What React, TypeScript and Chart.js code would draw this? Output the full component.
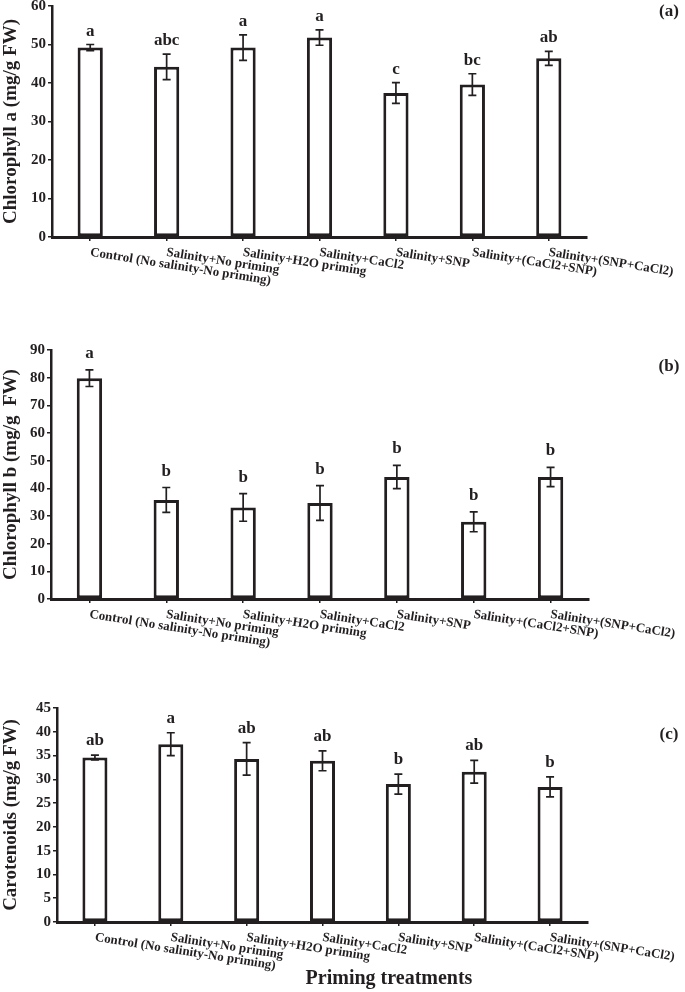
import React, { useEffect, useRef } from 'react';
import { Chart, registerables } from 'chart.js';
Chart.register(...registerables);

const categories = [
  'Control (No salinity-No priming)',
  'Salinity+No priming',
  'Salinity+H2O priming',
  'Salinity+CaCl2',
  'Salinity+SNP',
  'Salinity+(CaCl2+SNP)',
  'Salinity+(SNP+CaCl2)',
];

const chlA = [49.2, 44.2, 49.2, 51.8, 37.4, 39.6, 46.4];
const chlAErr = [0.8, 3.3, 3.3, 2.0, 2.7, 2.8, 1.8];
const chlALetters = ['a', 'abc', 'a', 'a', 'c', 'bc', 'ab'];

const chlB = [79.8, 35.8, 33.1, 34.7, 44.1, 27.9, 44.1];
const chlBErr = [3.0, 4.5, 5.0, 6.3, 4.2, 3.6, 3.5];
const chlBLetters = ['a', 'b', 'b', 'b', 'b', 'b', 'b'];

const car = [34.6, 37.4, 34.3, 33.9, 29.0, 31.6, 28.4];
const carErr = [0.5, 2.4, 3.4, 2.1, 2.1, 2.4, 2.1];
const carLetters = ['ab', 'a', 'ab', 'ab', 'b', 'ab', 'b'];

const INK = '#231f20';
const SERIF = '"Liberation Serif", "Times New Roman", serif';
const W = 685;

type PanelProps = {
  values: number[];
  errors: number[];
  letters: string[];
  yMax: number;
  yStep: number;
  yTitle: string;
  panelLabel: string;
  top: number;
  height: number;
  areaTop: number;
  areaBottom: number;
  areaLeft: number;
  areaRight: number;
  letterGap: number;
  labelY: number;
  xTitle?: string;
  xTitleY?: number;
};

function Panel(p: PanelProps) {
  const ref = useRef<HTMLCanvasElement | null>(null);
  useEffect(() => {
    if (!ref.current) return;
    const annot = {
      id: 'annot',
      afterDatasetsDraw(chart: any) {
        const ctx = chart.ctx as CanvasRenderingContext2D;
        const meta = chart.getDatasetMeta(0);
        const ys = chart.scales.y;
        const xs = chart.scales.x;
        ctx.save();
        ctx.strokeStyle = INK;
        ctx.fillStyle = INK;
        ctx.lineWidth = 1.7;
        p.values.forEach((v, i) => {
          const bx = meta.data[i].x;
          const yt = ys.getPixelForValue(v + p.errors[i]);
          const yb = ys.getPixelForValue(v - p.errors[i]);
          ctx.beginPath();
          ctx.moveTo(bx, yt);
          ctx.lineTo(bx, yb);
          ctx.moveTo(bx - 4, yt);
          ctx.lineTo(bx + 4, yt);
          ctx.moveTo(bx - 4, yb);
          ctx.lineTo(bx + 4, yb);
          ctx.stroke();
          ctx.font = 'bold 17px ' + SERIF;
          ctx.textAlign = 'center';
          ctx.textBaseline = 'alphabetic';
          ctx.fillText(p.letters[i], bx, yt - p.letterGap);
        });
        ctx.font = 'bold 13px ' + SERIF;
        ctx.textAlign = 'left';
        ctx.textBaseline = 'top';
        categories.forEach((c, i) => {
          const tx = xs.getPixelForValue(i);
          ctx.save();
          ctx.translate(tx + 1, xs.top + 9);
          ctx.rotate((9 * Math.PI) / 180);
          ctx.fillText(c, 0, 0);
          ctx.restore();
        });
        ctx.font = 'bold 17px ' + SERIF;
        ctx.textAlign = 'center';
        ctx.textBaseline = 'middle';
        ctx.fillText(p.panelLabel, 669, p.labelY);
        if (p.xTitle) {
          ctx.font = 'bold 20px ' + SERIF;
          ctx.fillText(p.xTitle, 389, p.xTitleY || 0);
        }
        ctx.restore();
      },
    };
    const chart = new Chart(ref.current, {
      type: 'bar',
      data: {
        labels: categories,
        datasets: [
          {
            data: p.values,
            backgroundColor: '#ffffff',
            borderColor: INK,
            borderWidth: 3,
            borderSkipped: false,
            barPercentage: 0.33,
            categoryPercentage: 1,
          },
        ],
      },
      options: {
        responsive: false,
        animation: false,
        devicePixelRatio: 1,
        layout: { padding: { top: p.areaTop, right: W - p.areaRight, left: 0, bottom: 0 } },
        plugins: { legend: { display: false }, tooltip: { enabled: false } },
        scales: {
          x: {
            grid: {
              display: true,
              drawOnChartArea: false,
              drawTicks: true,
              tickLength: 4,
              offset: false,
              color: INK,
              lineWidth: 1.5,
            },
            border: { display: true, color: INK, width: 3 },
            ticks: { display: false },
            afterFit: (s: any) => {
              s.height = p.height - p.areaBottom;
            },
          },
          y: {
            min: 0,
            max: p.yMax,
            ticks: {
              stepSize: p.yStep,
              color: INK,
              padding: 2,
              font: { family: SERIF, size: 15, weight: 'bold' },
            },
            grid: {
              drawOnChartArea: false,
              drawTicks: true,
              tickLength: 4,
              color: INK,
              lineWidth: 1.5,
            },
            border: { display: true, color: INK, width: 2.5 },
            title: {
              display: true,
              text: p.yTitle,
              color: INK,
              padding: { top: 0, bottom: 0 },
              font: { family: SERIF, size: 19, weight: 'bold' },
            },
            afterFit: (s: any) => {
              s.width = p.areaLeft;
            },
          },
        },
      } as any,
      plugins: [annot],
    });
    return () => chart.destroy();
  }, []);
  return (
    <canvas
      ref={ref}
      width={W}
      height={p.height}
      style={{ position: 'absolute', left: 0, top: p.top, width: W, height: p.height, display: 'block' }}
    />
  );
}

export default function App() {
  return (
    <div style={{ position: 'absolute', left: 0, top: 0, width: W, height: 992, overflow: 'hidden', background: '#fff' }}>
      <Panel
        values={chlA}
        errors={chlAErr}
        letters={chlALetters}
        yMax={60}
        yStep={10}
        yTitle="Chlorophyll a (mg/g FW)"
        panelLabel="(a)"
        top={-5}
        height={345}
        areaTop={10}
        areaBottom={242}
        areaLeft={52}
        areaRight={587}
        letterGap={9}
        labelY={17}
      />
      <Panel
        values={chlB}
        errors={chlBErr}
        letters={chlBLetters}
        yMax={90}
        yStep={10}
        yTitle="Chlorophyll b (mg/g  FW)"
        panelLabel="(b)"
        top={339}
        height={356}
        areaTop={10}
        areaBottom={260}
        areaLeft={51}
        areaRight={589}
        letterGap={12}
        labelY={28}
      />
      <Panel
        values={car}
        errors={carErr}
        letters={carLetters}
        yMax={45}
        yStep={5}
        yTitle="Carotenoids (mg/g FW)"
        panelLabel="(c)"
        top={697}
        height={295}
        areaTop={10}
        areaBottom={225}
        areaLeft={57}
        areaRight={588}
        letterGap={10}
        labelY={38}
        xTitle="Priming treatments"
        xTitleY={282}
      />
    </div>
  );
}
